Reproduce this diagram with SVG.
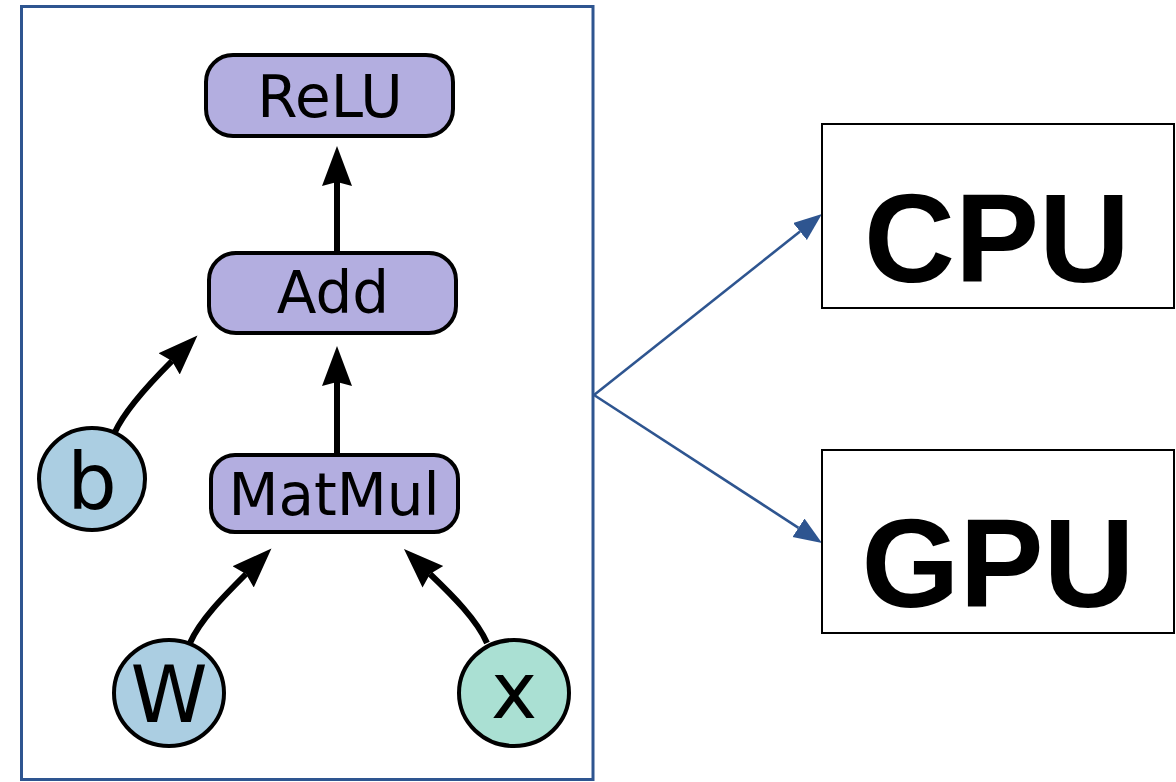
<svg xmlns="http://www.w3.org/2000/svg" width="1176" height="782" viewBox="0 0 1176 782">
  <style>
    .op { fill: #b3aee0; stroke: #000; stroke-width: 4; }
    .var { fill: #abcee2; stroke: #000; stroke-width: 4; }
    .inp { fill: #aae0d3; stroke: #000; stroke-width: 4; }
    .lbl { font-family: "DejaVu Sans", sans-serif; font-size: 58px; fill: #000; text-anchor: middle; }
    .vlbl { font-family: "DejaVu Sans", sans-serif; font-size: 78px; fill: #000; text-anchor: middle; }
    .dev { fill: #fff; stroke: #000; stroke-width: 2; }
    .dlbl { font-family: "Liberation Sans", Arial, sans-serif; font-weight: bold; font-size: 126px; fill: #000; text-anchor: middle; }
    .edge { fill: none; stroke: #000; stroke-width: 6; marker-end: url(#head); }
    .link { fill: none; stroke: #2e5590; stroke-width: 2.6; marker-end: url(#bhead); }
  </style>
  <defs>
    <marker id="head" markerUnits="userSpaceOnUse" markerWidth="42" markerHeight="32" refX="4" refY="15" orient="auto">
      <path d="M0,0 L40,15 L0,30 L4,15 z" fill="#000"/>
    </marker>
    <marker id="bhead" markerUnits="userSpaceOnUse" markerWidth="30" markerHeight="24" refX="0" refY="11" orient="auto">
      <path d="M0,0 L28,11 L0,22 z" fill="#2e5590"/>
    </marker>
  </defs>

  <!-- graph frame -->
  <rect id="frame" x="21.5" y="6.5" width="571.5" height="773" fill="#fff" stroke="#2e5590" stroke-width="3"/>

  <!-- connectors -->
  <g id="connectors">
    <path class="edge" d="M337,252 L337,182"/>
    <path class="edge" d="M337,455 L337,382"/>
    <path class="edge" d="M115,432 C125,410 148,385 172,361"/>
    <path class="edge" d="M190,643 C200,620 224,596 246,574"/>
    <path class="edge" d="M487,643 C477,620 453,596 430,574"/>
    <path class="link" d="M594,395 L800,231.5"/>
    <path class="link" d="M594,395 L798.5,527.8"/>
  </g>

  <g id="relu">
    <rect class="op" x="206" y="55" width="247" height="81" rx="27"/>
    <text class="lbl" x="330" y="117">ReLU</text>
  </g>
  <g id="add">
    <rect class="op" x="209" y="253" width="247" height="80" rx="27"/>
    <text class="lbl" x="333" y="313">Add</text>
  </g>
  <g id="matmul">
    <rect class="op" x="211" y="455" width="247" height="77" rx="24"/>
    <text class="lbl" x="334" y="515">MatMul</text>
  </g>
  <g id="b">
    <ellipse class="var" cx="92" cy="479" rx="53" ry="51"/>
    <text class="vlbl" x="92" y="509">b</text>
  </g>
  <g id="w">
    <ellipse class="var" cx="169" cy="693" rx="55" ry="53"/>
    <text class="vlbl" x="169" y="722">W</text>
  </g>
  <g id="x">
    <ellipse class="inp" cx="514" cy="693" rx="55" ry="53"/>
    <text class="vlbl" x="514" y="718">x</text>
  </g>

  <g id="cpu">
    <rect class="dev" x="822" y="124" width="352" height="184"/>
    <text class="dlbl" x="997" y="282">CPU</text>
  </g>
  <g id="gpu">
    <rect class="dev" x="822" y="450" width="352" height="183"/>
    <text class="dlbl" x="998" y="607">GPU</text>
  </g>
</svg>
